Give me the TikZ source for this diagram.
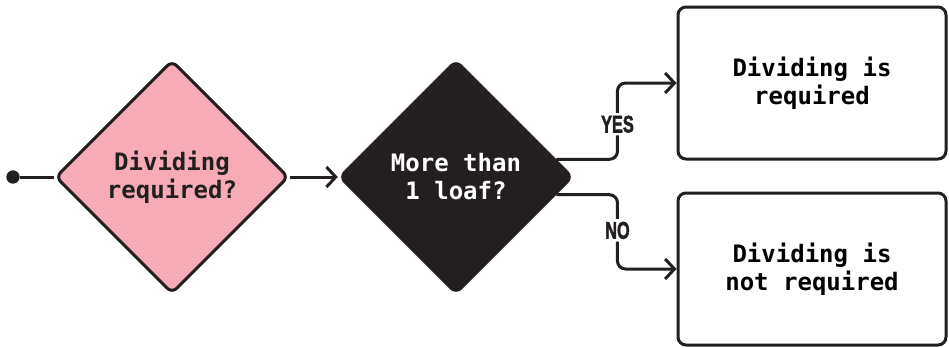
\documentclass[tikz,border=0pt]{standalone}
\usepackage{fontspec}
\usetikzlibrary{arrows.meta,positioning,shapes.geometric}
\newfontfamily\boxfont{DejaVu Sans Mono}
\newfontfamily\tagfont[FakeBold=2.5]{Liberation Sans Bold}
\newcommand\squeeze[1]{\scalebox{0.68}[1]{#1}}
\definecolor{ink}{HTML}{231F20}
\definecolor{blush}{HTML}{F6ABB6}
\tikzset{
  decision/.style={diamond, draw=ink, line width=2.25pt, rounded corners=5pt, aspect=1, minimum width=175pt, minimum height=175pt, inner sep=0pt, align=center, font=\boxfont\bfseries\fontsize{18}{21}\selectfont},
  outcome/.style={rectangle, draw=ink, fill=white, line width=2.25pt, rounded corners=6pt, minimum width=201pt, minimum height=114pt, align=center, font=\boxfont\bfseries\fontsize{18}{21}\selectfont},
  flow/.style={-{Straight Barb[length=7pt,width=15pt]}, ink, line width=2.25pt, rounded corners=6pt},
  answer/.style={fill=white, inner sep=2pt, text=ink, font=\tagfont\fontsize{18}{20}\selectfont},
}

\begin{document}
\begin{tikzpicture}[x=0.75pt, y=-0.75pt]
    \useasboundingbox (0,0) rectangle (949,347);
    \node[circle, fill=ink, minimum size=10pt, inner sep=0pt] (start) at (13,177) {};
    \node[decision, fill=blush, text=ink] (need) at (172,177) {Dividing\\ required?};
    \node[decision, fill=ink, text=white] (loaf) at (456,177) {More than\\ 1 loaf?};
    \node[outcome] (yesbox) at (812,83) {Dividing is\\ required};
    \node[outcome] (nobox) at (812,269) {Dividing is\\ not required};

    \draw[ink, line width=2.25pt] (start) -- (need);
    \draw[flow] (need) -- (loaf);
    \draw[flow] (loaf.10) -- ++(61,0) |- node[answer, pos=0.23] {\squeeze{YES}} (yesbox);
    \draw[flow] (loaf.-10) -- ++(61,0) |- node[answer, pos=0.24] {\squeeze{NO}} (nobox);
  \end{tikzpicture}
\end{document}
